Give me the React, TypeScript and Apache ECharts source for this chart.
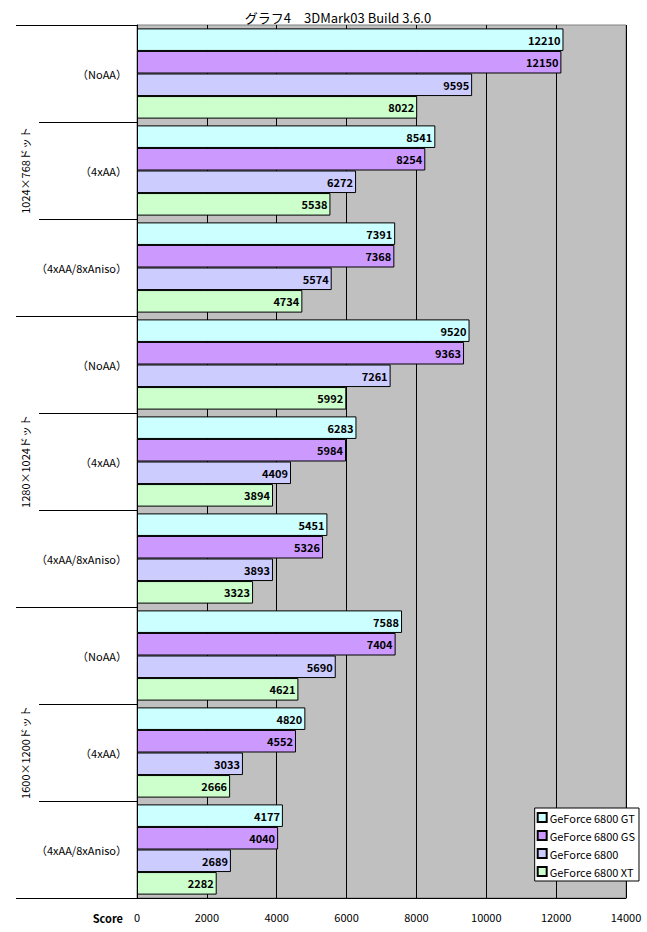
import React, { useEffect, useRef } from "react";
import * as echarts from "echarts";

const categories = [
  "（NoAA）", "（4xAA）", "（4xAA/8xAniso）",
  "（NoAA）", "（4xAA）", "（4xAA/8xAniso）",
  "（NoAA）", "（4xAA）", "（4xAA/8xAniso）",
];
const groups = ["1024×768ドット", "1280×1024ドット", "1600×1200ドット"];
const seriesNames = ["GeForce 6800 GT", "GeForce 6800 GS", "GeForce 6800", "GeForce 6800 XT"];
const gt = [12210, 8541, 7391, 9520, 6283, 5451, 7588, 4820, 4177];
const gs = [12150, 8254, 7368, 9363, 5984, 5326, 7404, 4552, 4040];
const g6800 = [9595, 6272, 5574, 7261, 4409, 3893, 5690, 3033, 2689];
const xt = [8022, 5538, 4734, 5992, 3894, 3323, 4621, 2666, 2282];
const colors = ["#CCFFFF", "#CC99FF", "#CCCCFF", "#CCFFCC"];
const xTicks = { min: 0, max: 14000, interval: 2000 };

const FONT = "'Noto Sans CJK JP', 'Liberation Sans', sans-serif";

export default function App() {
  const ref = useRef<HTMLDivElement>(null);
  useEffect(() => {
    document.body.style.margin = "0";
    const chart = echarts.init(ref.current!, null, { renderer: "svg" });
    const values = [gt, gs, g6800, xt];
    chart.setOption({
      animation: false,
      backgroundColor: "#FFFFFF",
      textStyle: { fontFamily: FONT },
      title: {
        text: "グラフ4　3DMark03 Build 3.6.0",
        left: 333,
        top: 6,
        textAlign: "center",
        textStyle: { fontSize: 13, fontWeight: "normal", color: "#000", fontFamily: FONT },
      },
      legend: {
        orient: "vertical",
        right: 8,
        bottom: 51,
        backgroundColor: "#FFFFFF",
        borderColor: "#000",
        borderWidth: 1,
        borderRadius: 0,
        padding: [4, 4, 4, 2],
        itemWidth: 9,
        itemHeight: 9,
        itemGap: 7,
        icon: "rect",
        textStyle: { fontSize: 11, color: "#000", fontFamily: FONT, padding: [0, 0, 0, -2] },
        data: seriesNames,
      },
      grid: {
        left: 137,
        right: 21,
        top: 25,
        bottom: 34,
        outerBoundsMode: "none",
        containLabel: false,
        show: true,
        backgroundColor: "#C0C0C0",
        borderColor: "#808080",
        borderWidth: 1,
      },
      xAxis: {
        type: "value",
        min: xTicks.min,
        max: xTicks.max,
        interval: xTicks.interval,
        name: "Score",
        nameLocation: "start",
        nameGap: 14,
        nameTextStyle: {
          fontSize: 11,
          fontWeight: "bold",
          color: "#000",
          fontFamily: FONT,
          verticalAlign: "top",
          lineHeight: 40,
        },
        axisLine: { show: true, lineStyle: { color: "#000", width: 1 } },
        axisTick: { show: false },
        axisLabel: {
          fontSize: 11,
          color: "#000",
          margin: 13,
          fontFamily: FONT,
          formatter: (v: number) => String(v),
        },
        splitLine: { show: true, lineStyle: { color: "#000", width: 1 } },
      },
      yAxis: [
        {
          type: "category",
          data: categories,
          inverse: true,
          position: "left",
          axisLine: { show: true, lineStyle: { color: "#000", width: 1 } },
          axisTick: { show: true, length: 98, lineStyle: { color: "#000", width: 1 } },
          axisLabel: { interval: 0, fontSize: 11, color: "#000", margin: 10, fontFamily: FONT },
        },
        {
          type: "category",
          data: groups,
          inverse: true,
          position: "left",
          axisLine: { show: false },
          axisTick: { show: true, length: 121, lineStyle: { color: "#000", width: 1 } },
          axisLabel: { interval: 0, rotate: 90, fontSize: 11, color: "#000", margin: 107, fontFamily: FONT },
        },
      ],
      series: seriesNames.map((name, i) => ({
        name,
        type: "bar",
        yAxisIndex: 0,
        data: values[i],
        barGap: "0%",
        barCategoryGap: "7%",
        itemStyle: { color: colors[i], borderColor: "#000", borderWidth: 1 },
        label: {
          show: true,
          position: "insideRight",
          distance: 3,
          fontSize: 11,
          fontWeight: "bold",
          color: "#000",
          fontFamily: FONT,
        },
      })),
    });
    return () => chart.dispose();
  }, []);
  return <div ref={ref} style={{ width: 647, height: 932, position: "absolute", left: 0, top: 0 }} />;
}
